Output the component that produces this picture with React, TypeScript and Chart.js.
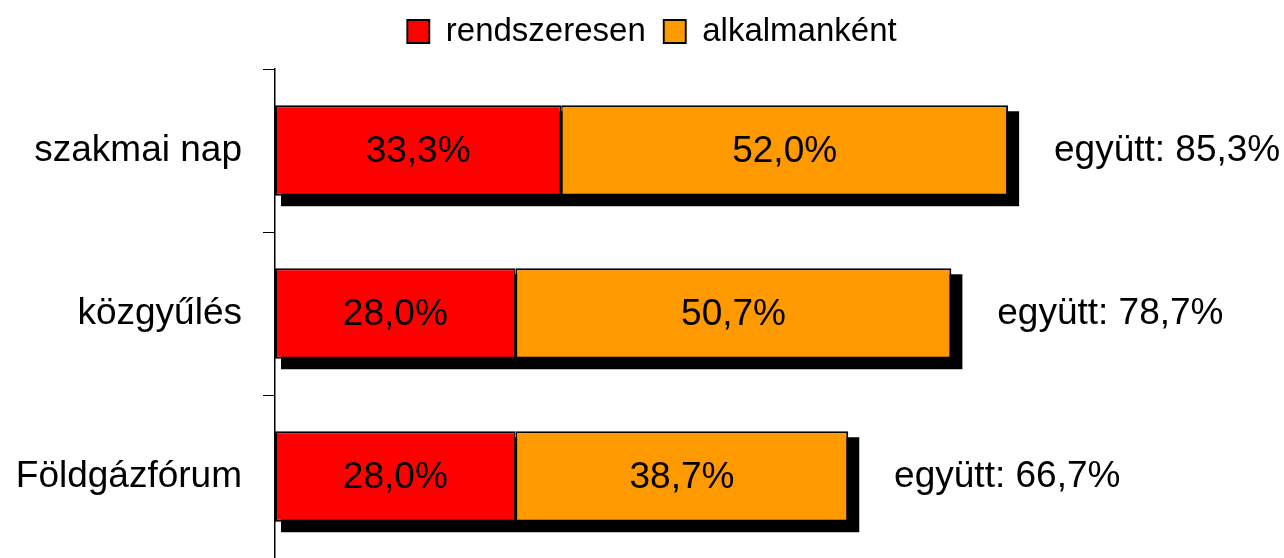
import React, { useEffect, useRef } from "react";
import { Chart, registerables } from "chart.js";

Chart.register(...registerables);

const categories = ["szakmai nap", "közgyűlés", "Földgázfórum"];
const seriesNames = ["rendszeresen", "alkalmanként"];
const rendszeresen = [33.3, 28.0, 28.0];
const alkalmankent = [52.0, 50.7, 38.7];
const egyutt = [85.3, 78.7, 66.7];
const seriesColors = ["#FF0000", "#FF9900"];
const totalPrefix = "együtt: ";
const xMax = 117.4;

const FONT = "'Liberation Sans', Arial, sans-serif";
const fmt = (v: number) => v.toFixed(1).replace(".", ",") + "%";

const shadowPlugin = {
  id: "barShadow",
  beforeDatasetsDraw(chart: any) {
    const ctx = chart.ctx;
    const m0 = chart.getDatasetMeta(0);
    const m1 = chart.getDatasetMeta(1);
    ctx.save();
    ctx.fillStyle = "#000";
    m0.data.forEach((b0: any, i: number) => {
      const p0 = b0.getProps(["base", "y", "height"], true);
      const p1 = m1.data[i].getProps(["x", "y", "height"], true);
      const left = p0.base;
      const right = p1.x;
      const top = p1.y - p1.height / 2;
      const bottom = p1.y + p1.height / 2;
      ctx.fillRect(left + 6, top + 6, right + 11 - (left + 6), bottom + 10.5 - (top + 6));
    });
    ctx.restore();
  },
};

const labelPlugin = {
  id: "barLabels",
  afterDatasetsDraw(chart: any) {
    const ctx = chart.ctx;
    ctx.save();
    ctx.fillStyle = "#000";
    ctx.textAlign = "center";
    ctx.textBaseline = "middle";
    ctx.font = `37px ${FONT}`;
    chart.data.datasets.forEach((ds: any, di: number) => {
      const meta = chart.getDatasetMeta(di);
      meta.data.forEach((bar: any, i: number) => {
        const p = bar.getProps(["x", "y", "base"], true);
        ctx.fillText(fmt(ds.data[i]), (p.x + p.base) / 2, p.y + 1);
      });
    });
    const last = chart.getDatasetMeta(chart.data.datasets.length - 1);
    last.data.forEach((bar: any, i: number) => {
      const p = bar.getProps(["x", "y"], true);
      ctx.fillText(totalPrefix + fmt(egyutt[i]), p.x + 159, p.y);
    });
    ctx.restore();
  },
};

const legendShiftPlugin = {
  id: "legendShift",
  afterLayout(chart: any) {
    const lg = chart.legend;
    if (lg) {
      lg.left += 4;
      lg.right += 4;
    }
  },
};

export default function App() {
  const ref = useRef<HTMLCanvasElement | null>(null);

  useEffect(() => {
    if (!ref.current) return;
    const chart = new Chart(ref.current, {
      type: "bar",
      data: {
        labels: categories,
        datasets: [
          {
            label: seriesNames[0],
            data: rendszeresen,
            backgroundColor: seriesColors[0],
            borderColor: "#000",
            borderWidth: { top: 2, bottom: 2, left: 2, right: 1.5 },
            borderSkipped: false,
            categoryPercentage: 1,
            barPercentage: 0.555,
          },
          {
            label: seriesNames[1],
            data: alkalmankent,
            backgroundColor: seriesColors[1],
            borderColor: "#000",
            borderWidth: { top: 2, bottom: 2, left: 1.5, right: 2 },
            borderSkipped: false,
            categoryPercentage: 1,
            barPercentage: 0.555,
          },
        ],
      },
      options: {
        indexAxis: "y",
        responsive: false,
        animation: false,
        layout: { padding: { left: 12, right: 0, top: -3, bottom: -3 } },
        scales: {
          x: {
            position: "top",
            stacked: true,
            min: 0,
            max: xMax,
            grid: { display: false },
            border: { display: false },
            ticks: { display: false },
            afterFit: (s: any) => {
              s.height = 11;
              s.paddingLeft = 0;
              s.paddingRight = 0;
            },
          },
          y: {
            stacked: true,
            grid: {
              offset: true,
              drawOnChartArea: false,
              drawTicks: true,
              tickLength: 12,
              color: "#000",
              lineWidth: 1,
            },
            border: { display: true, color: "#000", width: 1.5 },
            ticks: { font: { family: FONT, size: 37 }, color: "#000", padding: 21 },
            afterFit: (s: any) => {
              s.width = 263;
              s.paddingTop = 0;
              s.paddingBottom = 0;
            },
          },
        },
        plugins: {
          legend: {
            position: "top",
            labels: {
              font: { family: FONT, size: 33 },
              color: "#000",
              boxWidth: 22,
              boxHeight: 23,
              padding: 18,
            },
          },
          tooltip: { enabled: false },
        },
      } as any,
      plugins: [shadowPlugin, labelPlugin, legendShiftPlugin],
    });
    return () => chart.destroy();
  }, []);

  return (
    <div style={{ position: "absolute", left: 0, top: 0, width: 1284, height: 558, background: "#fff", overflow: "hidden" }}>
      <canvas ref={ref} width={1284} height={558} style={{ display: "block" }} />
    </div>
  );
}
